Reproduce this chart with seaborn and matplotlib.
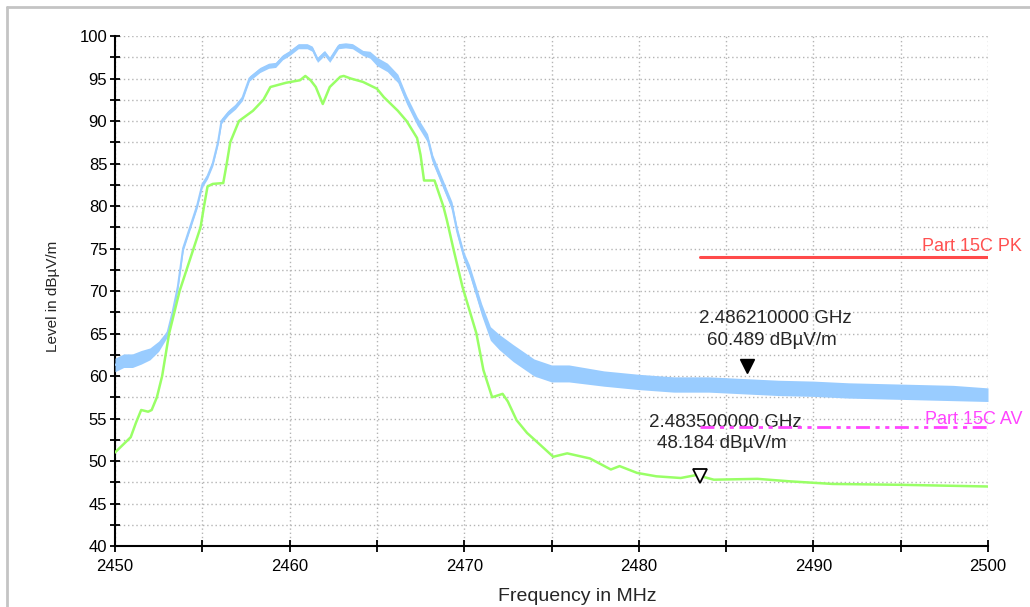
import matplotlib
matplotlib.use("Agg")
import matplotlib.pyplot as plt
import matplotlib.transforms as mtransforms
from matplotlib.lines import Line2D
from matplotlib.ticker import MultipleLocator
import seaborn as sns
import pandas as pd
import numpy as np

# peak trace (blue): frequency, level, noise half-width
blue_f = [2450, 2450.5, 2451, 2451.5, 2452, 2452.5, 2453, 2453.3, 2453.6, 2453.9,
          2454.3, 2454.7, 2455.0, 2455.3, 2455.6, 2455.9, 2456.1, 2456.5, 2456.9, 2457.3,
          2457.7, 2458.3, 2458.8, 2459.2, 2459.6, 2460.0, 2460.5, 2461.0, 2461.3, 2461.6,
          2462.0, 2462.3, 2462.8, 2463.2, 2463.6, 2464.2, 2464.6, 2465.0, 2465.6, 2466.2,
          2466.7, 2467.3, 2467.9, 2468.2, 2468.8, 2469.3, 2469.6, 2470.0, 2470.3, 2471.0,
          2471.5, 2472.0, 2472.8, 2474.0, 2475.0, 2476, 2478, 2480, 2482, 2484,
          2486, 2488, 2490, 2492, 2494, 2496, 2498, 2500]
blue_v = [61.3, 61.8, 61.8, 62.2, 62.6, 63.5, 65.0, 67.5, 70.5, 75.0,
          77.5, 80.0, 82.5, 83.5, 85.0, 87.5, 90.0, 91.0, 91.7, 92.7,
          95.0, 96.0, 96.5, 96.6, 97.5, 98.0, 98.8, 98.8, 98.5, 97.2,
          98.0, 97.2, 98.8, 98.9, 98.8, 98.0, 97.8, 97.0, 96.3, 95.0,
          92.5, 90.0, 88.0, 85.5, 82.5, 80.0, 77.0, 74.0, 72.5, 67.8,
          65.0, 64.0, 62.7, 61.0, 60.3, 60.3, 59.7, 59.3, 59.0, 59.0,
          58.8, 58.6, 58.5, 58.3, 58.2, 58.1, 58.0, 57.8]
blue_spread = [0.8, 0.8, 0.8, 0.8, 0.7, 0.6, 0.4, 0.3, 0.3, 0.3,
               0.3, 0.3, 0.3, 0.3, 0.3, 0.3, 0.3, 0.3, 0.3, 0.3,
               0.3, 0.3, 0.3, 0.3, 0.3, 0.3, 0.3, 0.3, 0.3, 0.3,
               0.3, 0.3, 0.3, 0.3, 0.3, 0.3, 0.4, 0.5, 0.5, 0.5,
               0.5, 0.5, 0.5, 0.5, 0.5, 0.5, 0.5, 0.5, 0.6, 0.7,
               0.8, 0.9, 1.0, 1.0, 1.0, 1.0, 0.9, 0.9, 0.9, 0.9,
               0.9, 0.9, 0.9, 0.9, 0.9, 0.9, 0.9, 0.8]

# average trace (green)
green_f = [2450, 2450.5, 2450.9, 2451.2, 2451.5, 2451.9, 2452.1, 2452.4, 2452.7, 2453.1,
           2453.7, 2454.5, 2454.9, 2455.1, 2455.3, 2455.6, 2456.2, 2456.4, 2456.6, 2457.1,
           2457.9, 2458.5, 2458.9, 2459.8, 2460.6, 2460.9, 2461.2, 2461.5, 2461.9, 2462.3,
           2462.9, 2463.1, 2463.5, 2464.2, 2465.0, 2465.4, 2466.2, 2466.7, 2467.3, 2467.5,
           2467.7, 2468.3, 2468.8, 2469.0, 2469.4, 2469.9, 2470.7, 2471.1, 2471.6, 2472.2,
           2472.5, 2473.0, 2473.6, 2474.3, 2475.1, 2475.9, 2477.2, 2478.4, 2478.9, 2479.9,
           2481.0, 2482.4, 2483.3, 2484.3, 2486.8, 2488.7, 2491.1, 2495.0, 2500.0]
green_v = [51.0, 52.0, 52.8, 54.5, 56.0, 55.8, 56.0, 57.5, 60.0, 65.0,
           70.0, 75.0, 77.5, 80.0, 82.3, 82.6, 82.7, 85.0, 87.5, 90.0,
           91.2, 92.5, 94.0, 94.5, 94.8, 95.3, 94.8, 94.0, 92.0, 94.0,
           95.2, 95.3, 95.0, 94.6, 93.8, 92.8, 91.2, 90.0, 88.0, 86.0,
           83.0, 83.0, 80.0, 78.4, 74.8, 70.5, 65.0, 60.7, 57.5, 57.9,
           57.0, 54.8, 53.3, 52.0, 50.5, 50.9, 50.3, 49.0, 49.4, 48.6,
           48.2, 48.0, 48.35, 47.8, 47.9, 47.6, 47.3, 47.2, 47.0]

# limit lines
limit_f = [2483.5, 2500]
limit_pk = [74, 74]
limit_av = [54, 54]

# markers
mk1_f, mk1_v = 2486.21, 60.489
mk2_f, mk2_v = 2483.5, 48.184
mk1_txt = ["2.486210000 GHz", "60.489 dBµV/m"]
mk2_txt = ["2.483500000 GHz", "48.184 dBµV/m"]

sns.set_style("white")
plt.rcParams["font.family"] = ["Liberation Sans", "DejaVu Sans"]

fig = plt.figure(figsize=(10.30, 6.07), dpi=100)
ax = fig.add_axes([115/1030, 1 - 546/607, 873/1030, 510/607])

blue = pd.DataFrame({"f": blue_f, "v": blue_v, "s": blue_spread})
green = pd.DataFrame({"f": green_f, "v": green_v})

ax.fill_between(blue["f"], blue["v"] - blue["s"], blue["v"] + blue["s"],
                color="#99ccff", lw=0, zorder=3)
sns.lineplot(data=blue, x="f", y="v", ax=ax, color="#99ccff", lw=1.5,
             estimator=None, zorder=3)
sns.lineplot(data=green, x="f", y="v", ax=ax, color="#99ff66", lw=1.8,
             estimator=None, zorder=4)

ax.plot(limit_f, limit_pk, color="#ff4a4a", lw=2.2, zorder=5)
ax.plot(limit_f, limit_av, color="#ff44ff", lw=2.0, zorder=5,
        linestyle=(0, (5, 2, 1.5, 2, 1.5, 2)))
ax.text(1.039, 74.25, "Part 15C PK", transform=ax.get_yaxis_transform(),
        ha="right", va="bottom", color="#ff5050", fontsize=13, clip_on=False)
ax.text(1.039, 53.9, "Part 15C AV", transform=ax.get_yaxis_transform(),
        ha="right", va="bottom", color="#ff44ff", fontsize=13, clip_on=False)

# marker symbols
up = mtransforms.offset_copy(ax.transData, fig=fig, x=0, y=4.5, units="points")
ax.plot([mk1_f], [mk1_v], marker="v", color="black", markersize=10,
        transform=up, zorder=6)
ax.plot([mk2_f], [mk2_v], marker="v", markerfacecolor="white",
        markeredgecolor="black", markeredgewidth=1.3, markersize=10, zorder=6)

ax.text(2487.8, 66.2, mk1_txt[0], ha="center", va="baseline", fontsize=13.5)
ax.text(2487.6, 63.6, mk1_txt[1], ha="center", va="baseline", fontsize=13.5)
ax.text(2484.95, 54.0, mk2_txt[0], ha="center", va="baseline", fontsize=13.5)
ax.text(2484.75, 51.5, mk2_txt[1], ha="center", va="baseline", fontsize=13.5)

ax.set_xlim(2450, 2500)
ax.set_ylim(40, 100)
ax.xaxis.set_major_locator(MultipleLocator(10))
ax.xaxis.set_minor_locator(MultipleLocator(5))
ax.yaxis.set_major_locator(MultipleLocator(5))
ax.yaxis.set_minor_locator(MultipleLocator(2.5))

ax.grid(True, which="both", color="#b4b4b4", lw=1.0, linestyle=(0, (1, 2)))
ax.set_axisbelow(True)

for side in ["top", "right"]:
    ax.spines[side].set_visible(False)
for side in ["left", "bottom"]:
    ax.spines[side].set_color("black")
    ax.spines[side].set_linewidth(1.5)

ax.tick_params(axis="x", which="both", direction="inout", length=9, width=1.3,
               colors="black", labelsize=12, pad=5)
ax.tick_params(axis="y", which="both", direction="inout", length=7, width=1.3,
               colors="black", labelsize=12, pad=2)
ax.tick_params(which="both", bottom=True, left=True)

ax.set_xlabel("Frequency in MHz", fontsize=14)
ax.set_ylabel("Level in dBµV/m", fontsize=11)
ax.xaxis.set_label_coords(0.53, -0.083)
ax.yaxis.set_label_coords(-0.063, 0.49)

# light frame round the figure
fig.add_artist(Line2D([7/1030, 7/1030], [0, 1 - 7/607], transform=fig.transFigure,
                      color="#c4c4c4", lw=2))
fig.add_artist(Line2D([7/1030, 1], [1 - 7/607, 1 - 7/607], transform=fig.transFigure,
                      color="#c4c4c4", lw=2))

fig.savefig("out.png", dpi=100)
